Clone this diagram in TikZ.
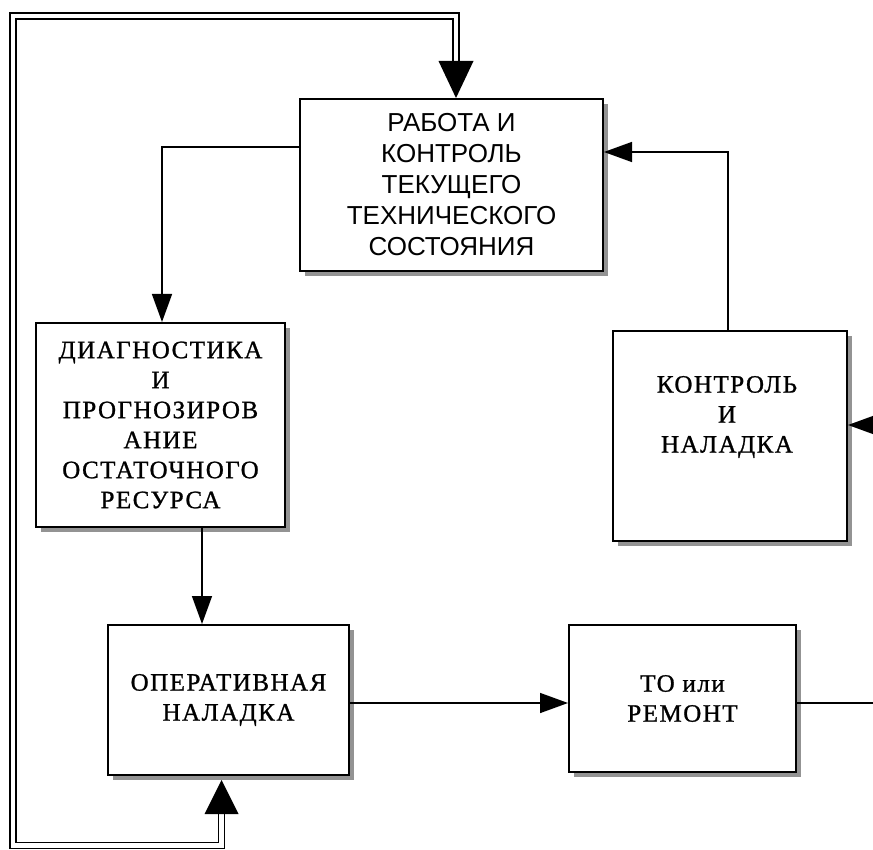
\documentclass[tikz,border=0pt]{standalone}
\usepackage{fontspec}
\setmainfont{Liberation Serif}
\newfontfamily\boxserif[LetterSpace=6,FakeBold=1]{Liberation Serif}
\newfontfamily\boxsans{Liberation Sans}
\usetikzlibrary{arrows.meta,shadows,calc}
\begin{document}
\begin{tikzpicture}[x=1pt,y=-1pt,
  box/.style={draw, line width=2pt, fill=white, inner sep=0pt, align=center,
    drop shadow={shadow xshift=5pt, shadow yshift=-5pt, fill=gray!85, opacity=1}},
  sertext/.style={font=\boxserif\fontsize{25}{30}\selectfont, align=center},
  santext/.style={font=\boxsans\fontsize{26}{31}\selectfont, align=center},
  arr/.style={line width=1.5pt, -{Triangle[length=28pt,width=20pt]}},
  plain/.style={line width=1.5pt},
  dbl/.style={double, double distance=4.5pt, line width=1.5pt}]
\useasboundingbox (0,0) rectangle (873,850);
\fill[white] (0,0) rectangle (873,850);

% boxes
\node[box, santext, minimum width=303pt, minimum height=172pt] (rab) at (451.5,185)
  {РАБОТА И\\КОНТРОЛЬ\\ТЕКУЩЕГО\\ТЕХНИЧЕСКОГО\\СОСТОЯНИЯ};
\node[box, sertext, minimum width=249pt, minimum height=204pt] (diag) at (160.5,425)
  {ДИАГНОСТИКА\\И\\ПРОГНОЗИРОВ\\АНИЕ\\ОСТАТОЧНОГО\\РЕСУРСА};
\node[box, minimum width=234pt, minimum height=210pt] (kn) at (730,436) {};
\node[sertext] (knt) at ($(kn.center)+(-3,-19)$) {КОНТРОЛЬ\\И\\НАЛАДКА};
\node[box, sertext, minimum width=241pt, minimum height=150pt] (opn) at (228.5,700)
  {ОПЕРАТИВНАЯ\\НАЛАДКА};
\node[box, sertext, minimum width=227pt, minimum height=147pt] (tor) at (682.5,698.5)
  {ТО или\\РЕМОНТ};

% helper coordinates
\coordinate (c1) at (162,147);
\coordinate (c2) at (202,0);
\coordinate (c3) at (0,703);
\coordinate (c4) at (728,152);
\coordinate (e1) at (873,703);
\coordinate (e2) at (873,425);
\coordinate (lb) at (221.5,845.5);
\coordinate (lbl) at (13,845.5);
\coordinate (ltl) at (13,16);
\coordinate (ltr) at (456,16);

% single connectors
\draw[arr] (rab.west |- c1) -- (c1) -- (c1 |- diag.north);
\draw[arr] (diag.south -| c2) -- (opn.north -| c2);
\draw[arr] (opn.east |- c3) -- (tor.west |- c3);
\draw[plain] (tor.east |- c3) -- (e1);
\draw[arr] (e2) -- (kn.east |- e2);
\draw[arr] (kn.north -| c4) -- (c4) -- (rab.east |- c4);

% double feedback loop
\draw[dbl] ($(opn.south -| lb)+(0,36)$) -- (lb) -- (lbl) -- (ltl) -- (ltr) -- ($(rab.north -| ltr)+(0,-36)$);
\fill ($(opn.south -| lb)+(0,4)$) -- ++(-17,34) -- ++(34,0) -- cycle;
\fill (rab.north -| ltr) -- ++(-17.5,-37) -- ++(35,0) -- cycle;
\end{tikzpicture}
\end{document}
